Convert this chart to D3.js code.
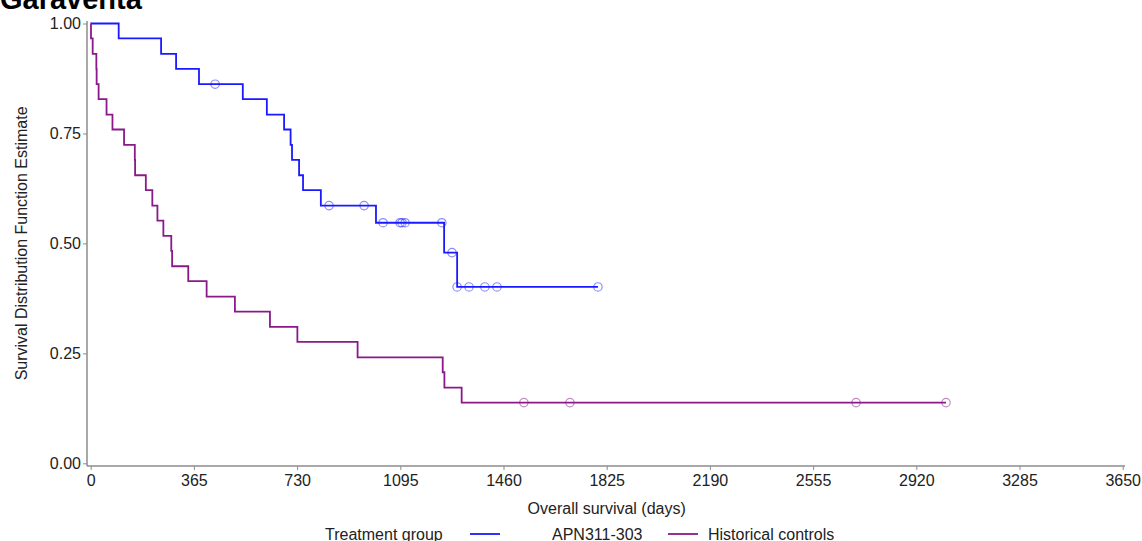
<!DOCTYPE html>
<html>
<head>
<meta charset="utf-8">
<script src="https://cdn.jsdelivr.net/npm/d3@7"></script>
<style>
  html, body { margin: 0; padding: 0; background: #fff; }
  svg { display: block; font-family: "Liberation Sans", Arial, sans-serif; }
</style>
</head>
<body>
<svg id="chart" width="1142" height="541"></svg>
<script>
// ---- data ----
const titleText = "Garaventa";
const groups = ["APN311-303", "Historical controls"];
const groupColors = ["#1a1aff", "#8a1a8a"];

// APN311-303: step points (time in days, survival estimate); last point = end of follow-up
const apnTimes = [0, 99, 249, 302, 383, 538, 623, 684, 707, 712, 737, 751, 814, 1009, 1250, 1296, 1794];
const apnSurv  = [1.000, 0.966, 0.931, 0.897, 0.862, 0.828, 0.793, 0.759, 0.724, 0.690, 0.655, 0.621, 0.586, 0.547, 0.479, 0.401, 0.401];
const apnCensorTimes = [440, 843, 967, 1034, 1094, 1101, 1112, 1242, 1278, 1296, 1338, 1394, 1437, 1794];
const apnCensorSurv  = [0.862, 0.586, 0.586, 0.547, 0.547, 0.547, 0.547, 0.547, 0.479, 0.401, 0.401, 0.401, 0.401, 0.401];

// Historical controls
const histTimes = [0, 1, 7, 20, 21, 28, 56, 77, 118, 156, 157, 195, 218, 236, 257, 285, 288, 345, 410, 510, 634, 731, 944, 1245, 1251, 1312, 3025];
const histSurv  = [1.000, 0.966, 0.931, 0.897, 0.862, 0.828, 0.793, 0.759, 0.724, 0.690, 0.655, 0.621, 0.586, 0.552, 0.517, 0.483, 0.448, 0.414, 0.379, 0.345, 0.310, 0.276, 0.241, 0.207, 0.172, 0.138, 0.138];
const histCensorTimes = [1532, 1695, 2707, 3025];
const histCensorSurv  = [0.138, 0.138, 0.138, 0.138];

const xTicks = [0, 365, 730, 1095, 1460, 1825, 2190, 2555, 2920, 3285, 3650];
const yTicks = [0, 0.25, 0.5, 0.75, 1.0];
const xLabel = "Overall survival (days)";
const yLabel = "Survival Distribution Function Estimate";
const legendTitle = "Treatment group";

// ---- drawing ----
const svg = d3.select("#chart");
const x = d3.scaleLinear().domain([0, 3650]).range([90.7, 1122.7]);
const y = d3.scaleLinear().domain([0, 1]).range([463.3, 23.5]);
const axisColor = "#8c8c8c";
const textColor = "#222";
const fontSize = 16;

// title (partly clipped at top, as in reference)
svg.append("text").attr("x", 0).attr("y", 9)
  .attr("font-size", 29).attr("font-weight", "bold").attr("fill", "#000")
  .text(titleText);

// axes
const axisLeftX = 87, axisBottomY = 466;
const yAxis = svg.append("g").attr("transform", `translate(${axisLeftX},0)`)
  .call(d3.axisLeft(y).tickValues(yTicks).tickFormat(d3.format(".2f")).tickSize(4).tickPadding(2));
const xAxis = svg.append("g").attr("transform", `translate(0,${axisBottomY})`)
  .call(d3.axisBottom(x).tickValues(xTicks).tickFormat(d3.format("d")).tickSize(4).tickPadding(5));
[yAxis, xAxis].forEach(g => {
  g.select(".domain").remove();
  g.selectAll(".tick line").attr("stroke", axisColor).attr("stroke-width", 1);
  g.selectAll(".tick text").attr("fill", textColor).attr("font-size", fontSize)
    .attr("font-family", "Liberation Sans, Arial, sans-serif");
});
svg.append("line").attr("x1", axisLeftX).attr("x2", axisLeftX).attr("y1", 21).attr("y2", axisBottomY)
  .attr("stroke", axisColor).attr("stroke-width", 1.5);
svg.append("line").attr("x1", axisLeftX).attr("x2", 1125).attr("y1", axisBottomY).attr("y2", axisBottomY)
  .attr("stroke", axisColor).attr("stroke-width", 1.5);

// axis labels
svg.append("text").attr("x", (x(0) + x(3650)) / 2).attr("y", 514)
  .attr("text-anchor", "middle").attr("font-size", fontSize).attr("fill", textColor).text(xLabel);
svg.append("text").attr("transform", `translate(27,${(y(0) + y(1)) / 2}) rotate(-90)`)
  .attr("text-anchor", "middle").attr("font-size", fontSize).attr("fill", textColor).text(yLabel);

// curves
const series = [
  { times: apnTimes, surv: apnSurv, ct: apnCensorTimes, cs: apnCensorSurv, color: groupColors[0] },
  { times: histTimes, surv: histSurv, ct: histCensorTimes, cs: histCensorSurv, color: groupColors[1] }
];
const line = d3.line().x(d => x(d[0])).y(d => y(d[1])).curve(d3.curveStepAfter);
series.forEach(s => {
  const pts = s.times.map((t, i) => [t, s.surv[i]]);
  svg.append("path").datum(pts).attr("d", line)
    .attr("fill", "none").attr("stroke", s.color).attr("stroke-width", 1.8)
    .attr("stroke-linejoin", "miter");
  const cens = s.ct.map((t, i) => [t, s.cs[i]]);
  svg.append("g").selectAll("circle").data(cens).join("circle")
    .attr("cx", d => x(d[0])).attr("cy", d => y(d[1])).attr("r", 4.2)
    .attr("fill", "none").attr("stroke", s.color).attr("stroke-opacity", 0.5).attr("stroke-width", 1.2);
});

// legend
const legY = 534;
svg.append("text").attr("x", 325).attr("y", legY + 6).attr("font-size", fontSize).attr("fill", textColor).text(legendTitle);
const legItems = [
  { lx: 470, tx: 552, label: groups[0], color: groupColors[0] },
  { lx: 668, tx: 708, label: groups[1], color: groupColors[1] }
];
legItems.forEach(it => {
  svg.append("line").attr("x1", it.lx).attr("x2", it.lx + 30).attr("y1", legY).attr("y2", legY)
    .attr("stroke", it.color).attr("stroke-width", 1.8);
  svg.append("text").attr("x", it.tx).attr("y", legY + 6).attr("font-size", fontSize).attr("fill", textColor).text(it.label);
});
</script>
</body>
</html>
